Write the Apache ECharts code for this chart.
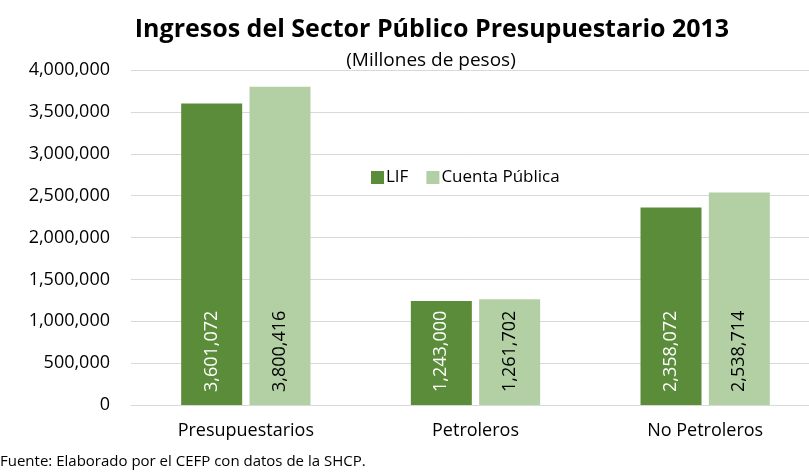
<!DOCTYPE html>
<html>
<head>
<meta charset="utf-8">
<script src="https://cdn.jsdelivr.net/npm/echarts@6/dist/echarts.min.js"></script>
<style>
html, body { margin: 0; padding: 0; background: #fff; }
#main { width: 809px; height: 473px; }
</style>
</head>
<body>
<div id="main"></div>
<script>
var categories = ['Presupuestarios', 'Petroleros', 'No Petroleros'];
var lif = [3601072, 1243000, 2358072];
var cuenta = [3800416, 1261702, 2538714];

var FONT = 'Open Sans';
var myChart = echarts.init(document.getElementById('main'));

function fmt(v) {
    return v.toLocaleString('en-US');
}

var option = {
    backgroundColor: '#fff',
    animation: false,
    textStyle: { fontFamily: FONT },
    title: [
        {
            text: 'Ingresos del Sector Público Presupuestario 2013',
            left: 427, top: 12, textAlign: 'center',
            textStyle: { fontFamily: FONT, fontSize: 25, fontWeight: 'bold', color: '#000' }
        },
        {
            text: '(Millones de pesos)',
            left: 426, top: 46, textAlign: 'center',
            textStyle: { fontFamily: FONT, fontSize: 19, fontWeight: 'normal', color: '#000' }
        },
        {
            text: 'Fuente: Elaborado por el CEFP con datos de la SHCP.',
            left: 0, top: 454, padding: 0,
            textStyle: { fontFamily: FONT, fontSize: 15, fontWeight: 'normal', color: '#000' }
        }
    ],
    legend: {
        data: ['LIF', 'Cuenta Pública'],
        left: 371, top: 169, padding: 0,
        itemWidth: 13, itemHeight: 13, itemGap: 18,
        icon: 'rect',
        textStyle: { fontFamily: FONT, fontSize: 17, color: '#000', padding: [0, 0, 0, -3] }
    },
    grid: {
        left: 131, width: 689, top: 70, bottom: 68,
        containLabel: false, outerBoundsMode: 'none'
    },
    xAxis: {
        type: 'category',
        data: categories,
        axisLine: { lineStyle: { color: '#d9d9d9', width: 1 } },
        axisTick: { show: false },
        axisLabel: { color: '#000', fontSize: 18, fontFamily: FONT, margin: 17 }
    },
    yAxis: {
        type: 'value',
        min: 0, max: 4000000, interval: 500000,
        axisLine: { show: false },
        axisTick: { show: false },
        splitLine: { lineStyle: { color: '#d9d9d9', width: 1 } },
        axisLabel: {
            color: '#000', fontSize: 18, fontFamily: FONT, margin: 21,
            formatter: fmt
        }
    },
    series: [
        {
            name: 'LIF', type: 'bar', data: lif,
            barWidth: 61, barGap: '12%',
            itemStyle: { color: '#5b8c3a' },
            label: {
                show: true, position: 'insideBottom', rotate: 90,
                align: 'left', verticalAlign: 'middle', distance: 13,
                color: '#fff', fontSize: 18, fontFamily: FONT,
                formatter: function (p) { return fmt(p.value); }
            }
        },
        {
            name: 'Cuenta Pública', type: 'bar', data: cuenta,
            barWidth: 61,
            itemStyle: { color: '#b3d0a5' },
            label: {
                show: true, position: 'insideBottom', rotate: 90,
                align: 'left', verticalAlign: 'middle', distance: 13,
                color: '#000', fontSize: 18, fontFamily: FONT,
                formatter: function (p) { return fmt(p.value); }
            }
        }
    ]
};

myChart.setOption(option);
</script>
</body>
</html>
